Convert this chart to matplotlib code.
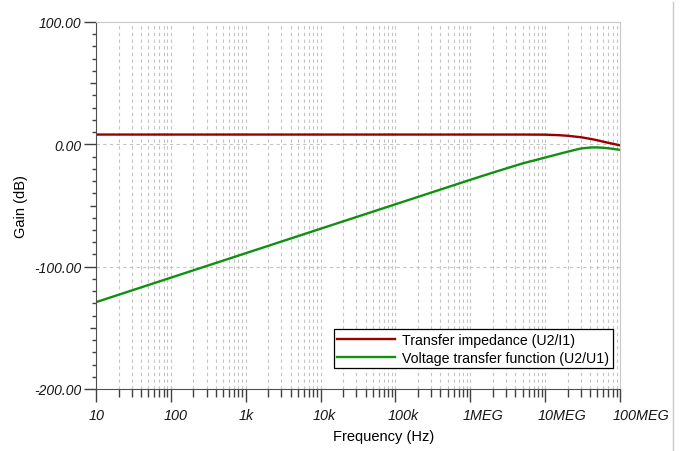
import matplotlib
matplotlib.use("Agg")
import matplotlib.pyplot as plt
from matplotlib.ticker import FixedLocator, NullFormatter
from matplotlib.lines import Line2D
from matplotlib.transforms import ScaledTranslation

# frequency sweep points (Hz)
freq = [10, 100, 1e3, 1e4, 1e5, 1e6, 2e6, 5e6, 1e7, 1.5e7, 2e7, 3e7, 4e7, 5e7, 7e7, 1e8]
# transfer impedance U2/I1 (dB)
zt_db = [8.0, 8.0, 8.0, 8.0, 8.0, 8.0, 8.0, 8.0, 7.9, 7.5, 7.0, 5.8, 4.5, 3.3, 1.2, -0.8]
# voltage transfer function U2/U1 (dB)
gv_db = [-129.0, -109.0, -89.0, -69.0, -49.0, -29.0, -23.1, -15.6, -10.8, -8.0, -6.0,
         -3.4, -2.6, -2.5, -3.2, -4.5]

xticks = [10, 100, 1e3, 1e4, 1e5, 1e6, 1e7, 1e8]
xtick_labels = ["10", "100", "1k", "10k", "100k", "1MEG", "10MEG", "100MEG"]
yticks = [-200, -100, 0, 100]
ytick_labels = ["-200.00", "-100.00", "0.00", "100.00"]

plt.rcParams['font.family'] = ['Liberation Sans', 'DejaVu Sans']

fig = plt.figure(figsize=(6.81, 4.52), dpi=100)
ax = fig.add_axes([96 / 681, 1 - 390 / 452, 524 / 681, 367 / 452])

ax.semilogx(freq, zt_db, color="#990000", lw=1.7, label="Transfer impedance (U2/I1)")
ax.semilogx(freq, gv_db, color="#109010", lw=1.7, label="Voltage transfer function (U2/U1)")

ax.set_xlim(10, 1e8)
ax.set_ylim(-200, 100)

# x axis: decades with 2..9 minors
minor_x = [m * 10 ** d for d in range(1, 8) for m in range(2, 10)]
ax.xaxis.set_major_locator(FixedLocator(xticks))
ax.xaxis.set_minor_locator(FixedLocator(minor_x))
ax.xaxis.set_minor_formatter(NullFormatter())
ax.set_xticklabels(xtick_labels)

ax.yaxis.set_major_locator(FixedLocator(yticks))
ax.set_yticklabels(ytick_labels)
minor_y = [v for v in range(-200, 101, 10) if v % 100 != 0]
ax.yaxis.set_minor_locator(FixedLocator(minor_y))

ax.tick_params(axis="both", which="major", direction="out", length=9, width=1,
               color="#404040", labelsize=10, labelcolor="#161616", pad=1.5)
ax.tick_params(axis="x", which="minor", direction="out", length=5.5, width=1,
               color="#404040")
ax.tick_params(axis="y", which="minor", direction="out", length=3, width=1,
               color="#404040")
ax.tick_params(axis="x", which="major", pad=5, labelsize=10.4)
for lab in ax.get_xticklabels() + ax.get_yticklabels():
    lab.set_fontstyle("italic")

# x labels start just left of their tick
shift = ScaledTranslation(-7.5 / 100, 0, fig.dpi_scale_trans)
for lab in ax.get_xticklabels():
    lab.set_horizontalalignment("left")
    lab.set_transform(lab.get_transform() + shift)

# half-way ticks on the gain axis a bit longer
for tick, loc in zip(ax.yaxis.get_minor_ticks(), minor_y):
    if loc % 50 == 0:
        tick.tick1line.set_markersize(4.5)

# dashed grid
ax.grid(True, which="major", axis="both", ls=(0, (3, 3)), color="#c4c4c4", lw=0.8)
ax.grid(True, which="minor", axis="x", ls=(0, (3, 3)), color="#c4c4c4", lw=0.8)
ax.set_axisbelow(True)

ax.spines["left"].set_color("#505050")
ax.spines["bottom"].set_color("#505050")
ax.spines["top"].set_color("#c8c8c8")
ax.spines["right"].set_color("#c8c8c8")

ax.set_xlabel("Frequency (Hz)", fontsize=10.5)
ax.xaxis.set_label_coords((384 - 96) / 524, -(444 - 390) / 367, transform=None)
ax.xaxis.label.set_verticalalignment("bottom")
ax.set_ylabel("Gain (dB)", fontsize=10.5)
ax.yaxis.set_label_coords(-(96 - 21) / 524, 0.5)
ax.yaxis.label.set_verticalalignment("center")

leg = ax.legend(loc="lower right", bbox_to_anchor=(0.9866, 0.057), fontsize=10.2,
                frameon=True, fancybox=False, framealpha=1, edgecolor="black",
                handlelength=4.1, handletextpad=0.5, borderpad=0.25,
                labelspacing=0.25, borderaxespad=0)
leg.get_frame().set_linewidth(0.9)

fig.add_artist(Line2D([672.5 / 681] * 2, [0, 1 - 3 / 452], transform=fig.transFigure,
                      color="#c8c8c8", lw=1))

fig.savefig("out.png", dpi=100)
